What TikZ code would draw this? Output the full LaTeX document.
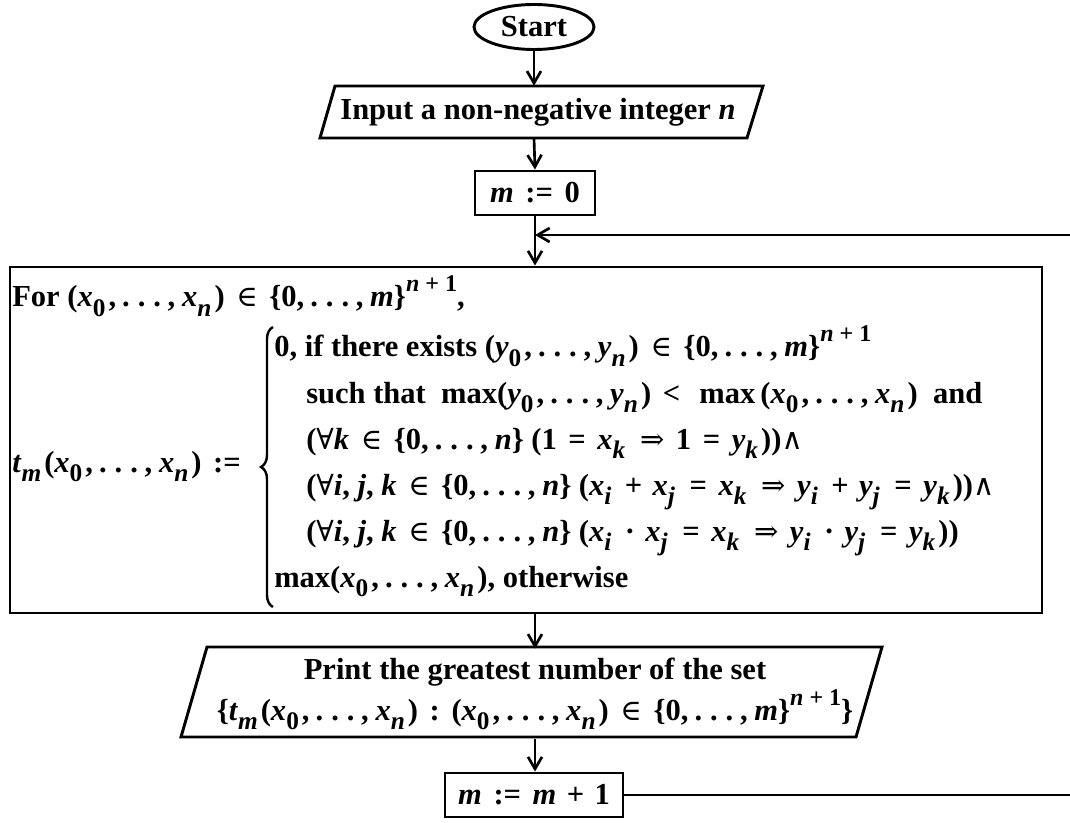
\documentclass[tikz,border=0pt]{standalone}
\usepackage{fontspec}
\setmainfont{Liberation Serif}
\newfontfamily\symf{DejaVu Serif}[Scale=0.95]
\usetikzlibrary{arrows.meta,shapes.geometric,decorations.pathreplacing}
\newcommand\vx[1]{\textit{#1}}
\newcommand\lo[1]{\raisebox{-0.3em}{\fontsize{19pt}{19pt}\selectfont #1}\kern0.1em}
\newcommand\hi[1]{\raisebox{0.5em}{\fontsize{18pt}{18pt}\selectfont #1}}
\newcommand\dts{\kern0.2em.\kern0.26em.\kern0.26em.\kern0.22em,\kern0.22em}
\newcommand\tp[1]{(\vx{#1}\lo{0},\dts\vx{#1}\lo{\vx{n}})}
\newcommand\zm{\{0,\dts\vx{m}\}\hi{\vx{n} + 1}}
\newcommand\zn{\{0,\dts\vx{n}\}}
\newcommand\sElem{{\symf\mdseries ∈}}
\newcommand\sAll{{\symf\mdseries ∀}}
\newcommand\sImp{{\symf\mdseries ⇒}}
\newcommand\sAnd{{\symf\mdseries ∧}}
\newcommand\rel[1]{\kern0.38em#1\kern0.38em}
\newcommand\bop[1]{\kern0.34em#1\kern0.34em}
\newcommand\xs[2]{\vx{#1}\lo{\vx{#2}}}
\begin{document}
\begin{tikzpicture}[x=0.75pt,y=-0.75pt,
  every node/.style={font=\fontsize{22.9pt}{31pt}\selectfont\bfseries, inner sep=0pt},
  box/.style={draw, line width=2.2pt},
  shapeline/.style={line width=2.2pt, line join=miter},
  arr/.style={line width=2pt, -{Straight Barb[length=9pt,width=10.5pt]}},
  txt/.style={anchor=base west}]
\clip (0,0) rectangle (1070,823);
% start
\node[box, ellipse, minimum width=120*0.75pt, minimum height=45*0.75pt] (start) at (534,27) {Start};
% input
\node[minimum height=52*0.75pt] (input) at (538,112) {Input a non-negative integer \vx{n}};
\draw[shapeline] (335,86) -- (763,86) -- (747,138) -- (320,138) -- cycle;
% m := 0
\node[box, minimum width=120*0.75pt, minimum height=44*0.75pt] (m0) at (535,193) {\vx{m}\rel{:=}0};
% big box
\node[box, minimum width=1032*0.75pt, minimum height=346*0.75pt] (loop) at (526,440) {};
\node[txt] (l0) at (12,307) {For \tp{x}\rel{\sElem}\zm,};
\node[txt] (tm) at (12,472) {\xs{t}{m}\tp{x}\rel{:=}};
\draw[line width=1.8pt, decorate, decoration={brace, amplitude=9pt}] (273,607) -- (273,327);
\node[txt] (l1) at (274,357) {0, if there exists \tp{y}\rel{\sElem}\zm};
\node[txt] (l2) at (306,403) {such that\ \ max\tp{y}\rel{<}\ max\,\tp{x}\ \ and};
\node[txt] (l3) at (306,449) {(\sAll\vx{k}\rel{\sElem}\zn\ (1\rel{=}\xs{x}{k}\rel{\sImp}1\rel{=}\xs{y}{k}))\sAnd};
\node[txt] (l4) at (306,495) {(\sAll\vx{i}, \vx{j}, \vx{k}\rel{\sElem}\zn\ (\xs{x}{i}\bop{+}\xs{x}{j}\rel{=}\xs{x}{k}\rel{\sImp}\xs{y}{i}\bop{+}\xs{y}{j}\rel{=}\xs{y}{k}))\sAnd};
\node[txt] (l5) at (306,541) {(\sAll\vx{i}, \vx{j}, \vx{k}\rel{\sElem}\zn\ (\xs{x}{i}\bop{·}\xs{x}{j}\rel{=}\xs{x}{k}\rel{\sImp}\xs{y}{i}\bop{·}\xs{y}{j}\rel{=}\xs{y}{k}))};
\node[txt] (l6) at (274,587) {max\tp{x}, otherwise};
% print
\node[minimum height=90*0.75pt, align=center] (print) at (535,694) {Print the greatest number of the set\\ \{\xs{t}{m}\tp{x}\rel{:}\tp{x}\rel{\sElem}\zm\}};
\draw[shapeline] (207,647) -- (882,647) -- (856,737) -- (181,737) -- cycle;
% m := m+1
\node[box, minimum width=178*0.75pt, minimum height=44*0.75pt] (minc) at (534,795) {\vx{m}\rel{:=}\vx{m}\bop{+}1};
% connectors
\coordinate (j) at (535,235);
\coordinate (rr) at (1095,235);
\draw[arr] (start.south) -- (start.south |- input.north);
\draw[arr] (start.south |- input.south) -- (m0.north);
\draw[arr] (m0.south) -- (m0.south |- loop.north);
\draw[arr] (m0.south |- loop.south) -- (m0.south |- print.north);
\draw[arr] (m0.south |- print.south) -- (m0.south |- minc.north);
\draw[arr] (minc.east) -| (rr) -- (j);
\end{tikzpicture}
\end{document}
